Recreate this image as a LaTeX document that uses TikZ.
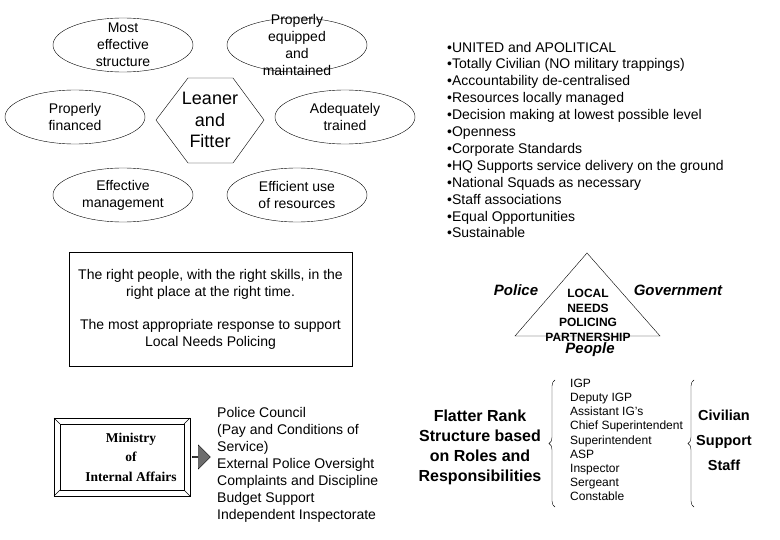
\documentclass[tikz,border=0pt]{standalone}
\usepackage{fontspec}
\setmainfont{Liberation Sans}
\newfontfamily\timesbold{Liberation Serif}
\usetikzlibrary{shapes.geometric,shapes.arrows,decorations.pathreplacing}
\tikzset{
  oval/.style={draw,ellipse,minimum width=140pt,minimum height=54pt,inner sep=0pt},
  ovaltext/.style={align=center,font=\fontsize{14}{17}\selectfont},
  listtext/.style={align=left,anchor=west,inner sep=0pt},
  bolditalic/.style={font=\fontsize{15}{17}\selectfont\bfseries\itshape},
}
\begin{document}
\begin{tikzpicture}[x=1pt,y=-1pt]
\useasboundingbox (0,0) rectangle (780,540);
%ovals
\node[oval] (struct) at (123,45) {};
\node[ovaltext] at (struct) {Most\\effective\\structure};
\node[oval] (equip) at (297,45) {};
\node[ovaltext] at (equip) {Properly\\equipped\\and\\maintained};
\node[oval] (finance) at (75,117) {};
\node[ovaltext] at (finance) {Properly\\financed};
\node[oval] (trained) at (345,117) {};
\node[ovaltext] at (trained) {Adequately\\trained};
\node[oval] (manage) at (123,195) {};
\node[ovaltext] at (manage) {Effective\\management};
\node[oval] (resource) at (297,195) {};
\node[ovaltext] at (resource) {Efficient use\\of resources};
%hexagon
\draw (156,120)--(188,78)--(233,78)--(264,120)--(233,163)--(188,163)--cycle;
\node[align=center,font=\fontsize{18}{21.5}\selectfont] (lean) at (210,120) {Leaner\\and\\Fitter};
%principles
\node[listtext,font=\fontsize{14}{16.9}\selectfont] (aims) at (447,140) {%
  •UNITED and APOLITICAL\\
  •Totally Civilian (NO military trappings)\\
  •Accountability de-centralised\\
  •Resources locally managed\\
  •Decision making at lowest possible level\\
  •Openness\\
  •Corporate Standards\\
  •HQ Supports service delivery on the ground\\
  •National Squads as necessary\\
  •Staff associations\\
  •Equal Opportunities\\
  •Sustainable};
%box
\node[draw,minimum width=283pt,minimum height=114pt,align=center,
  font=\fontsize{14}{17}\selectfont] (right) at (210.5,309)
  {The right people, with the right skills, in the\\right place at the right time.\\[16pt]
   The most appropriate response to support\\Local Needs Policing};
%triangle
\coordinate (apex) at (587,253);
\coordinate (bl) at (515,336);
\coordinate (br) at (660,336);
\draw (apex)--(bl)--(br)--cycle;
\node[align=center,font=\fontsize{12}{14.5}\selectfont\bfseries] (lnp) at (588,315.5)
  {LOCAL\\NEEDS\\POLICING\\PARTNERSHIP};
\node[bolditalic] (police) at (516,290) {Police};
\node[bolditalic] (govt) at (678,290) {Government};
\node[bolditalic] (people) at (590,350) {People};
%ministry
\draw (54,418) rectangle (190,496);
\draw (60,424) rectangle (184,490);
\draw (54,418)--(60,424) (190,418)--(184,424) (54,496)--(60,490) (190,496)--(184,490);
\node[align=center,font=\fontsize{13.5}{19.5}\selectfont\timesbold\bfseries] (moia) at (131,457)
  {Ministry\\of\\Internal Affairs};
\node[single arrow,draw,fill=gray!85!black,inner sep=0pt,minimum width=24pt,minimum height=18pt,
  single arrow head extend=4pt] (arr) at (201,457) {};
\node[listtext,font=\fontsize{14}{17}\selectfont] (council) at (217,464.5) {%
  Police Council\\
  (Pay and Conditions of\\
  Service)\\
  External Police Oversight\\
  Complaints and Discipline\\
  Budget Support\\
  Independent Inspectorate};
%ranks
\node[align=center,font=\fontsize{16}{20}\selectfont\bfseries] (flat) at (480,447)
  {Flatter Rank\\Structure based\\on Roles and\\Responsibilities};
\draw[decorate,decoration={brace,amplitude=6pt}] (555,507)--(555,380);
\node[listtext,font=\fontsize{12}{14.2}\selectfont] (ranks) at (570,440) {%
  IGP\\Deputy IGP\\Assistant IG's\\Chief Superintendent\\Superintendent\\ASP\\Inspector\\Sergeant\\Constable};
\draw[decorate,decoration={brace,amplitude=6pt}] (694,507)--(694,380);
\node[align=center,font=\fontsize{14.5}{25}\selectfont\bfseries] (civil) at (724,440)
  {Civilian\\Support\\Staff};
\end{tikzpicture}
\end{document}
